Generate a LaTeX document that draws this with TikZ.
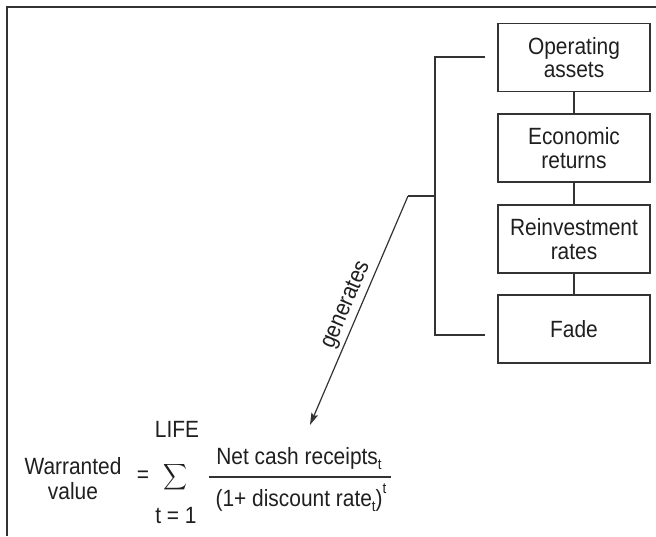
\documentclass[tikz,border=0pt]{standalone}
\usepackage{fontspec}
\setmainfont{Liberation Sans}[FakeStretch=0.89]
\usetikzlibrary{arrows.meta}

% small lowered / raised letters for the formula
\newcommand{\lowt}[1]{\raisebox{-0.45ex}{\fontsize{15}{15}\selectfont #1}}
\newcommand{\hight}[1]{\raisebox{1.0ex}{\fontsize{15}{15}\selectfont #1}}

\tikzset{
  ink/.style={draw=black!80, line width=1.2pt},
  stepbox/.style={ink, minimum width=152pt, minimum height=68pt, inner sep=0pt,
    align=center, font=\fontsize{23.5}{23.5}\selectfont, text=black!88},
  txt/.style={font=\fontsize{23.5}{25}\selectfont, text=black!88, inner sep=0pt},
}

\begin{document}
\begin{tikzpicture}[x=1pt, y=-1pt]
  \useasboundingbox (0,0) rectangle (656,536);

  % frame edges
  \draw[ink] (7,536) -- (7,7) -- (656,7);

  % chain of drivers
  \node[stepbox] (oa) at (574,57.5) {Operating\\assets};
  \node[stepbox] (er) at (574,148) {Economic\\returns};
  \node[stepbox] (rr) at (574,239) {Reinvestment\\rates};
  \node[stepbox] (fd) at (574,329) {Fade};
  \draw[ink] (oa) -- (er);
  \draw[ink] (er) -- (rr);
  \draw[ink] (rr) -- (fd);

  % bracket gathering the drivers
  \coordinate (btop) at (485,57);
  \coordinate (bbot) at (485,335);
  \coordinate (bmid) at (435,196);
  \coordinate (bout) at (408,196);
  \draw[ink] (btop) -- (435,57) -- (435,335) -- (bbot);
  \draw[ink] (bmid) -- (bout);

  % formula
  \node[txt, align=center] (wv) at (73,479) {Warranted\\value};
  \node[txt] (eq) at (143,477) {=};
  \node[inner sep=0pt, text=black!88] (sum) at (175,477.5)
    {\resizebox{24pt}{29pt}{\raisebox{\depth}{$\displaystyle\sum$}}};
  \node[txt, anchor=base] (life) at (177,437) {LIFE};
  \node[txt, anchor=base] (tone) at (176,523) {t = 1};
  \node[txt, anchor=base] (num) at (299,464) {Net cash receipts\lowt{t}};
  \node[txt, anchor=base] (den) at (301,506) {(1+ discount rate\lowt{t})\hight{t}};
  \coordinate (fl) at (209,477);
  \coordinate (fr) at (391,477);
  \draw[draw=black!80, line width=1.1pt] (fl) -- (fr);

  % link from the bracket to the formula
  \coordinate (tip) at (310,425);
  \draw[ink, -{Stealth[length=12pt, width=7pt, inset=2pt]}] (bout) -- node[midway, sloped, above=3pt, txt] {generates} (tip);
\end{tikzpicture}
\end{document}
